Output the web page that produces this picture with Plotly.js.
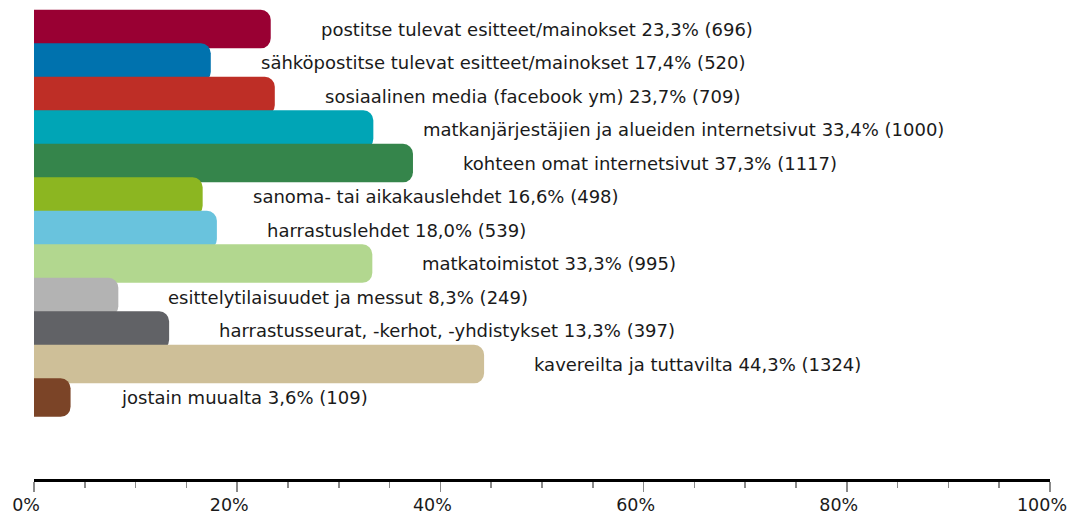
<!DOCTYPE html>
<html>
<head>
<meta charset="utf-8">
<script src="https://cdn.plot.ly/plotly-3.0.1.min.js"></script>
<style>
  html, body { margin: 0; padding: 0; background: #fff; }
  #chart { width: 1078px; height: 516px; }
</style>
</head>
<body>
<div id="chart"></div>
<script>
// Mistä saa tietoa matkakohteista
const categories = [
    'postitse tulevat esitteet/mainokset',
    'sähköpostitse tulevat esitteet/mainokset',
    'sosiaalinen media (facebook ym)',
    'matkanjärjestäjien ja alueiden internetsivut',
    'kohteen omat internetsivut',
    'sanoma- tai aikakauslehdet',
    'harrastuslehdet',
    'matkatoimistot',
    'esittelytilaisuudet ja messut',
    'harrastusseurat, -kerhot, -yhdistykset',
    'kavereilta ja tuttavilta',
    'jostain muualta'
];
const percents = [23.3, 17.4, 23.7, 33.4, 37.3, 16.6, 18.0, 33.3, 8.3, 13.3, 44.3, 3.6];
const counts = [696, 520, 709, 1000, 1117, 498, 539, 995, 249, 397, 1324, 109];
const barColors = ['#990033', '#0072ae', '#be2e26', '#00a5b6', '#35854b', '#8cb621',
                   '#69c3dd', '#b2d78f', '#b3b3b3', '#616266', '#cebf98', '#7b4427'];

const labels = categories.map((c, i) =>
    c + ' ' + percents[i].toFixed(1).replace('.', ',') + '% (' + counts[i] + ')');

const data = [{
    type: 'bar',
    orientation: 'h',
    x: percents,
    y: categories,
    width: 1.15,
    marker: {
        color: barColors,
        cornerradius: 10,
        line: { width: 0 }
    },
    hoverinfo: 'skip'
}];

const annotations = categories.map((c, i) => ({
    x: percents[i],
    y: c,
    xref: 'x',
    yref: 'y',
    text: labels[i],
    showarrow: false,
    xanchor: 'left',
    yanchor: 'middle',
    xshift: 48,
    font: { size: 18, color: '#1a1a1a' }
}));

const layout = {
    width: 1078,
    height: 516,
    paper_bgcolor: '#fff',
    plot_bgcolor: '#fff',
    font: { family: '"DejaVu Sans", sans-serif', color: '#1a1a1a' },
    margin: { l: 34, r: 28, t: 9, b: 37 },
    showlegend: false,
    xaxis: {
        range: [0, 100],
        dtick: 20,
        ticksuffix: '%',
        showgrid: false,
        zeroline: false,
        showline: true,
        linecolor: '#000',
        linewidth: 3,
        ticks: 'outside',
        ticklen: 10,
        tickwidth: 1.5,
        tickcolor: '#8a8a8a',
        ticklabelshift: -8,
        ticklabelstandoff: -2,
        tickfont: { size: 17.5, color: '#1a1a1a' },
        minor: {
            dtick: 5,
            ticks: 'outside',
            ticklen: 6,
            tickwidth: 1.5,
            tickcolor: '#8a8a8a',
            showgrid: false
        },
        fixedrange: true
    },
    yaxis: {
        type: 'category',
        range: [13.43, -0.6],
        showticklabels: false,
        showgrid: false,
        zeroline: false,
        showline: false,
        ticks: '',
        fixedrange: true
    },
    annotations: annotations
};

Plotly.newPlot('chart', data, layout, { displayModeBar: false, staticPlot: true });
</script>
</body>
</html>
